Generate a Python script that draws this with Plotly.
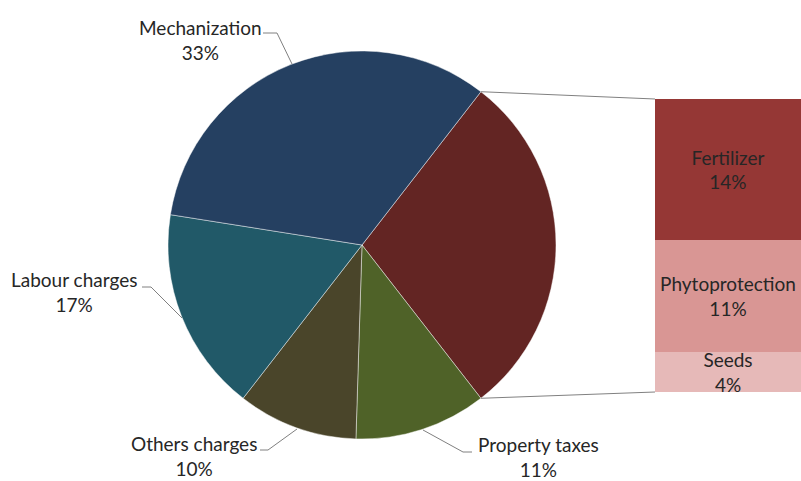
import math
import plotly.graph_objects as go

# ---- data ----
pie_labels = ["Other inputs", "Property taxes", "Others charges", "Labour charges", "Mechanization"]
pie_values = [29, 11, 10, 17, 33]
pie_colors = ["#632523", "#4F6228", "#4A452A", "#215968", "#254061"]

bar_labels = ["Seeds", "Phytoprotection", "Fertilizer"]
bar_values = [4, 11, 14]
bar_colors = ["#E6B9B8", "#D99694", "#953735"]

W, H = 801, 481
FONT = "Lato"
FS = 19
TXT = "#262626"

def px(x):
    return x / W

def py(y):
    return 1 - y / H

# pie geometry (pixels)
cx, cy, R = 362, 245, 194
total = sum(pie_values)
group_share = pie_values[0] / total
rotation = 90 - group_share * 360 / 2

fig = go.Figure()

fig.add_trace(go.Pie(
    labels=pie_labels, values=pie_values, sort=False, direction="clockwise",
    rotation=rotation, textinfo="none", hoverinfo="label+percent",
    marker=dict(colors=pie_colors, line=dict(color="rgba(255,255,255,0.45)", width=1)),
    domain=dict(x=[px(cx - R), px(cx + R)], y=[py(cy + R), py(cy - R)]),
    showlegend=False,
))

bar_top_px, bar_bot_px = 99, 392
for lab, val, col in zip(bar_labels, bar_values, bar_colors):
    fig.add_trace(go.Bar(
        x=["g"], y=[val], name=lab, width=1, marker=dict(color=col, line=dict(width=0)),
        text=[f"{lab}<br>{val}%"], textposition="inside", insidetextanchor="middle",
        textangle=0, constraintext="none", cliponaxis=False,
        textfont=dict(family=FONT, size=FS, color=TXT),
        xaxis="x", yaxis="y", showlegend=False, hoverinfo="name+y",
    ))

# labels for pie slices
pie_label_pos = {
    "Mechanization": (200, 40),
    "Labour charges": (74, 292),
    "Others charges": (194, 456),
    "Property taxes": (538, 457),
}
annotations = []
for lab, val in zip(pie_labels, pie_values):
    if lab in pie_label_pos:
        x, y = pie_label_pos[lab]
        annotations.append(dict(
            x=px(x), y=py(y), xref="paper", yref="paper", showarrow=False,
            text=f"{lab}<br>{round(val / total * 100)}%", align="center",
            xanchor="center", yanchor="middle", borderpad=0,
            font=dict(family=FONT, size=FS, color=TXT),
        ))

# leader lines (pixels)
leaders = [
    [(263, 33), (277, 33), (292, 64)],
    [(142, 287), (151, 287), (182, 318)],
    [(260, 450), (268, 450), (297, 429)],
    [(423, 430), (463, 452), (472, 452)],
]
shapes = []
LC = "#808080"
for pts in leaders:
    path = "M " + " L ".join(f"{px(x)},{py(y)}" for x, y in pts)
    shapes.append(dict(type="path", path=path, xref="paper", yref="paper",
                       line=dict(color=LC, width=1)))

# connector lines from pie group slice edges to bar corners
a0 = math.radians(rotation)
a1 = math.radians(rotation + group_share * 360)
p_top = (cx + R * math.sin(a0), cy - R * math.cos(a0))
p_bot = (cx + R * math.sin(a1), cy - R * math.cos(a1))
bar_left = 655
for (x0, y0), yb in [(p_top, bar_top_px), (p_bot, bar_bot_px)]:
    shapes.append(dict(type="line", xref="paper", yref="paper",
                       x0=px(x0), y0=py(y0), x1=px(bar_left), y1=py(yb),
                       line=dict(color=LC, width=1)))

fig.update_layout(
    width=W, height=H, margin=dict(l=0, r=0, t=0, b=0),
    paper_bgcolor="white", plot_bgcolor="white",
    barmode="stack", bargap=0,
    xaxis=dict(domain=[px(bar_left), 1.0], range=[-0.5, 0.5], visible=False, fixedrange=True),
    yaxis=dict(domain=[py(bar_bot_px), py(bar_top_px)], range=[0, sum(bar_values)],
               visible=False, fixedrange=True),
    annotations=annotations, shapes=shapes,
    font=dict(family=FONT, color=TXT),
)

fig.write_html(
    "out.html",
    config={"displayModeBar": False},
    post_script="document.body.style.margin='0';document.body.style.overflow='hidden';",
)
